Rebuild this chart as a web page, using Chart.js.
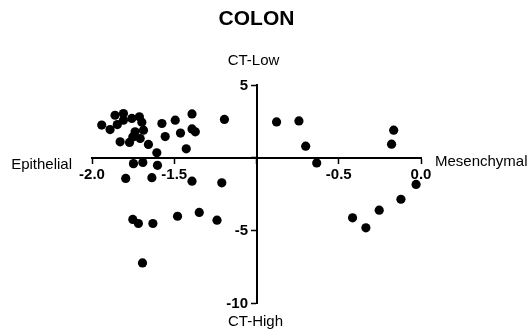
<!DOCTYPE html>
<html>
<head>
<meta charset="utf-8">
<script src="https://cdn.jsdelivr.net/npm/chart.js@4"></script>
<style>
  html, body { margin: 0; padding: 0; background: #fff; }
  #wrap { width: 527px; height: 331px; }
</style>
</head>
<body>
<div id="wrap"><canvas id="chart"></canvas></div>
<script>
// EMT score (x) against CT score (y), one point per sample
const emtScore = [
  -1.941, -1.860, -1.809, -1.890, -1.846, -1.809, -1.758, -1.712, -1.697, -1.687,
  -1.738, -1.752, -1.829, -1.772, -1.707, -1.657, -1.606, -1.575, -1.494, -1.392,
  -1.555, -1.462, -1.392, -1.372, -1.427, -1.195,
  -1.748, -1.691, -1.602, -1.795, -1.636, -1.392, -1.211,
  -1.752, -1.718, -1.630, -1.480, -1.348, -1.240, -1.693,
  -0.878, -0.742, -0.701, -0.634, -0.166, -0.179,
  -0.030, -0.122, -0.254, -0.416, -0.335
]
const ctScore = [
  2.24, 2.92, 3.04, 1.93, 2.28, 2.58, 2.70, 2.81, 2.44, 1.89,
  1.78, 1.43, 1.09, 1.05, 1.32, 0.91, 0.34, 2.35, 2.58, 3.01,
  1.45, 1.69, 1.98, 1.78, 0.61, 2.63,
  -0.41, -0.33, -0.53, -1.43, -1.38, -1.62, -1.73,
  -4.25, -4.53, -4.53, -4.03, -3.77, -4.30, -7.24,
  2.46, 2.53, 0.79, -0.36, 1.89, 0.93,
  -1.84, -2.86, -3.61, -4.14, -4.83
]

const xTicks = [-2, -1.5, -1, -0.5, 0]
const xTickLabels = ["-2.0", "-1.5", "", "-0.5", "0.0"]
const yTicks = [5, 0, -5, -10]
const yTickLabels = ["5", "", "-5", "-10"]

const chartTitle = "COLON"
const axisNames = { top: "CT-Low", bottom: "CT-High", left: "Epithelial", right: "Mesenchymal" }

const points = emtScore.map((x, i) => ({ x, y: ctScore[i] }))

const fontFamily = "'Liberation Sans', Arial, sans-serif"
const tickFont = { family: fontFamily, size: 15, weight: "bold" }

function labelFor(values, labels) {
  return (value) => {
    const idx = values.findIndex((v) => Math.abs(v - value) < 1e-6)
    return idx === -1 ? "" : labels[idx]
  }
}

// quadrant names around the crossing axes, plus the y tick labels
// (chart.js puts labels of a value-positioned y axis right on the line)
const axisNamesPlugin = {
  id: "axisNames",
  afterDraw(chart) {
    const { ctx, chartArea } = chart
    const xs = chart.scales.x
    const ys = chart.scales.y
    const cx = xs.getPixelForValue(-1)
    const cy = ys.getPixelForValue(0)
    ctx.save()
    ctx.fillStyle = "#000"

    ctx.font = `bold ${tickFont.size}px ${fontFamily}`
    ctx.textAlign = "right"
    ctx.textBaseline = "middle"
    yTicks.forEach((value, i) => {
      if (yTickLabels[i]) ctx.fillText(yTickLabels[i], cx - 8.5, ys.getPixelForValue(value) + 0.5)
    })

    ctx.font = `15px ${fontFamily}`
    ctx.textBaseline = "alphabetic"
    ctx.textAlign = "center"
    ctx.fillText(axisNames.top, cx - 3, chartArea.top - 20)
    ctx.fillText(axisNames.bottom, cx - 1, chartArea.bottom + 23)
    ctx.textAlign = "right"
    ctx.fillText(axisNames.left, chartArea.left - 20, cy + 11)
    ctx.textAlign = "left"
    ctx.fillText(axisNames.right, chartArea.right + 14, cy + 8)
    ctx.restore()
  }
}

new Chart(document.getElementById("chart"), {
  type: "scatter",
  data: {
    datasets: [{
      data: points,
      backgroundColor: "#000",
      borderWidth: 0,
      pointRadius: 4.6,
      pointHoverRadius: 4.6
    }]
  },
  options: {
    responsive: true,
    maintainAspectRatio: false,
    animation: false,
    events: [],
    layout: { padding: { left: 92, right: 106, top: 0, bottom: 28 } },
    plugins: {
      legend: { display: false },
      tooltip: { enabled: false },
      title: {
        display: true,
        text: chartTitle,
        color: "#000",
        font: { family: fontFamily, size: 21, weight: "bold" },
        padding: { top: 7, bottom: 52.8 }
      }
    },
    scales: {
      x: {
        type: "linear",
        min: -2,
        max: 0,
        position: { y: 0 },
        afterBuildTicks: (scale) => { scale.ticks = xTicks.map((value) => ({ value })) },
        ticks: {
          color: "#000",
          font: tickFont,
          padding: 3,
          maxRotation: 0,
          autoSkip: false,
          callback: labelFor(xTicks, xTickLabels)
        },
        grid: { drawOnChartArea: false, drawTicks: true, tickLength: 5, color: "#000", tickWidth: 1.5 },
        border: { display: true, color: "#000", width: 2 }
      },
      y: {
        type: "linear",
        min: -10,
        max: 5,
        position: { x: -1 },
        afterBuildTicks: (scale) => { scale.ticks = yTicks.map((value) => ({ value })) },
        ticks: { display: false },
        grid: { drawOnChartArea: false, drawTicks: true, tickLength: 5, color: "#000", tickWidth: 1.5 },
        border: { display: true, color: "#000", width: 2 }
      }
    }
  },
  plugins: [axisNamesPlugin]
})
</script>
</body>
</html>
